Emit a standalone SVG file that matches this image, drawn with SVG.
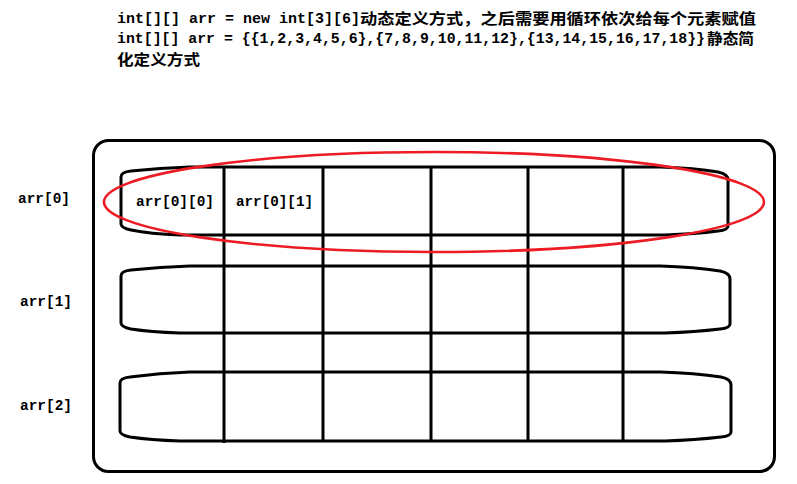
<svg xmlns="http://www.w3.org/2000/svg" width="797" height="484" viewBox="0 0 797 484">
<style>
  .ln { fill: none; stroke: #000; stroke-width: 3; stroke-linecap: butt; }
  .red { fill: none; stroke: #ed1c24; stroke-width: 2.6; }
  .mono { font-family: "Liberation Mono", "DejaVu Sans Mono", monospace; font-weight: bold; font-size: 14px; fill: #000; }
  .hmono { font-family: "Liberation Mono", "DejaVu Sans Mono", monospace; font-weight: bold; font-size: 14.5px; fill: #000; }
  .cjk { font-family: "Noto Sans CJK SC", "Noto Sans CJK JP", sans-serif; font-weight: bold; font-size: 15px; fill: #000; }
</style>
<rect width="797" height="484" fill="#fff"/>
<g id="header">
  <text class="hmono" x="117" y="23" textLength="243" lengthAdjust="spacingAndGlyphs">int[][] arr = new int[3][6]</text>
  <text class="cjk" x="360" y="23.5" textLength="396" lengthAdjust="spacingAndGlyphs">动态定义方式，之后需要用循环依次给每个元素赋值</text>
  <text class="hmono" x="117" y="43" textLength="588" lengthAdjust="spacingAndGlyphs">int[][] arr = {{1,2,3,4,5,6},{7,8,9,10,11,12},{13,14,15,16,17,18}}</text>
  <text class="cjk" x="707" y="43.5" textLength="47" lengthAdjust="spacingAndGlyphs">静态简</text>
  <text class="cjk" x="117" y="64.5" textLength="83" lengthAdjust="spacingAndGlyphs">化定义方式</text>
</g>
<g id="outer">
  <rect class="ln" x="93.5" y="140.5" width="681" height="331" rx="15" ry="15"/>
</g>
<g id="row0">
  <path class="ln" d="M121,177 Q121,172 131,171 Q160,168 190,167 H660 Q695,168 718,172 Q728,174 728,180 V226 Q728,230 718,231 Q695,234 665,235 H180 Q150,234 131,230 Q121,228 121,224 Z"/>
  <text class="mono" x="18" y="203" textLength="52" lengthAdjust="spacingAndGlyphs">arr[0]</text>
</g>
<g id="row1">
  <path class="ln" d="M121,276 Q121,271 131,270 Q160,267 190,266 H660 Q695,267 720,271 Q730,273 730,279 V324 Q730,328 720,329 Q695,332 665,333 H180 Q150,332 131,329 Q121,327 121,323 Z"/>
  <text class="mono" x="20" y="306" textLength="52" lengthAdjust="spacingAndGlyphs">arr[1]</text>
</g>
<g id="row2">
  <path class="ln" d="M120,383 Q120,378 130,377 Q160,373 190,372 H660 Q695,373 721,377 Q731,379 731,385 V432 Q731,436 721,437 Q695,440 665,441 H180 Q150,440 130,437 Q120,435 120,431 Z"/>
  <text class="mono" x="20" y="410" textLength="52" lengthAdjust="spacingAndGlyphs">arr[2]</text>
</g>
<g id="columns">
  <line class="ln" x1="224" y1="167" x2="224" y2="443"/>
  <line class="ln" x1="323" y1="167" x2="323" y2="441"/>
  <line class="ln" x1="431" y1="167" x2="431" y2="441"/>
  <line class="ln" x1="528" y1="167" x2="528" y2="441"/>
  <line class="ln" x1="623" y1="167" x2="623" y2="441"/>
</g>
<g id="cells">
  <text class="mono" x="136" y="206" textLength="78" lengthAdjust="spacingAndGlyphs">arr[0][0]</text>
  <text class="mono" x="236" y="206" textLength="77" lengthAdjust="spacingAndGlyphs">arr[0][1]</text>
</g>
<g id="highlight">
  <ellipse class="red" cx="434" cy="202" rx="330" ry="50"/>
</g>
</svg>
